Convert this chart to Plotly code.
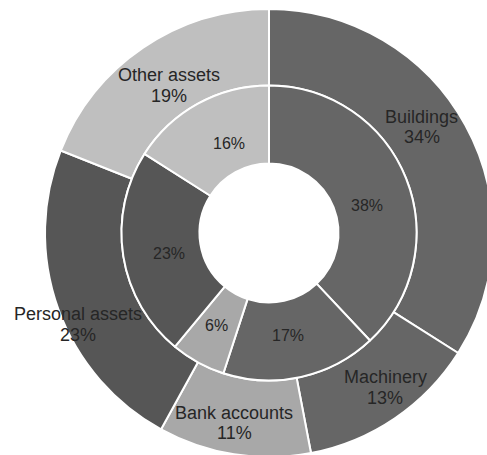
import math
import plotly.graph_objects as go

# Asset mix: outer ring and inner ring share the same categories
categories = ["Buildings", "Machinery", "Bank accounts", "Personal assets", "Other assets"]
outer_values = [34, 13, 11, 23, 19]
inner_values = [38, 17, 6, 23, 16]
colors = ["#666666", "#666666", "#a8a8a8", "#565656", "#bfbfbf"]

# Label placement: radius as a fraction of the outer radius, plus an angular nudge (deg)
outer_label_r = [0.831, 0.864, 0.863, 0.947, 0.795]
outer_label_nudge = [-6.0, -2.8, 1.4, -5.8, 0.1]
inner_label_r = [0.454, 0.466, 0.474, 0.454, 0.439]
inner_label_nudge = [6.2, 1.9, 1.0, -2.5, 4.9]

TEXT = "#262626"
FONT = "Liberation Sans, Arial, sans-serif"
INNER_FRAC = 295 / 448  # inner ring outer radius relative to outer ring radius
HOLE_FRAC = 139 / 295   # centre hole relative to inner ring radius


def mid_angles(values):
    total = float(sum(values))
    out, acc = [], 0.0
    for v in values:
        out.append(360.0 * (acc + v / 2.0) / total)
        acc += v
    return out


def polar_to_paper(angle_deg, rfrac):
    a = math.radians(angle_deg)
    return 0.5 + 0.5 * rfrac * math.sin(a), 0.5 + 0.5 * rfrac * math.cos(a)


fig = go.Figure()

fig.add_trace(go.Pie(
    labels=categories, values=outer_values, sort=False, direction="clockwise",
    rotation=0, hole=INNER_FRAC, textinfo="none", hoverinfo="label+percent",
    marker=dict(colors=colors, line=dict(color="white", width=2)),
    domain=dict(x=[0, 1], y=[0, 1]), showlegend=False,
))

lo = 0.5 - INNER_FRAC / 2
hi = 0.5 + INNER_FRAC / 2
fig.add_trace(go.Pie(
    labels=categories, values=inner_values, sort=False, direction="clockwise",
    rotation=0, hole=HOLE_FRAC, textinfo="none", hoverinfo="label+percent",
    marker=dict(colors=colors, line=dict(color="white", width=2)),
    domain=dict(x=[lo, hi], y=[lo, hi]), showlegend=False,
))

annotations = []
for name, val, ang, r, nud in zip(categories, outer_values, mid_angles(outer_values),
                                  outer_label_r, outer_label_nudge):
    x, y = polar_to_paper(ang + nud, r)
    for txt, shift in ((name, 10.25), (f"{val}%", -10.25)):
        annotations.append(dict(
            x=x, y=y, xref="paper", yref="paper", text=txt, showarrow=False,
            yshift=shift, xanchor="center", yanchor="middle",
            font=dict(family=FONT, size=18, color=TEXT),
        ))

for val, ang, r, nud in zip(inner_values, mid_angles(inner_values),
                            inner_label_r, inner_label_nudge):
    x, y = polar_to_paper(ang + nud, r)
    annotations.append(dict(
        x=x, y=y, xref="paper", yref="paper", text=f"{val}%", showarrow=False,
        xanchor="center", yanchor="middle",
        font=dict(family=FONT, size=16, color=TEXT),
    ))

fig.update_layout(
    width=493, height=457,
    margin=dict(l=45, r=0, t=9, b=0, pad=0),
    paper_bgcolor="white", plot_bgcolor="white",
    annotations=annotations,
    showlegend=False,
)

fig.write_html(
    "out.html",
    config={"displayModeBar": False},
    post_script=(
        "document.documentElement.style.overflow='hidden';"
        "document.body.style.overflow='hidden';"
        "document.body.style.margin='0';"
    ),
)
